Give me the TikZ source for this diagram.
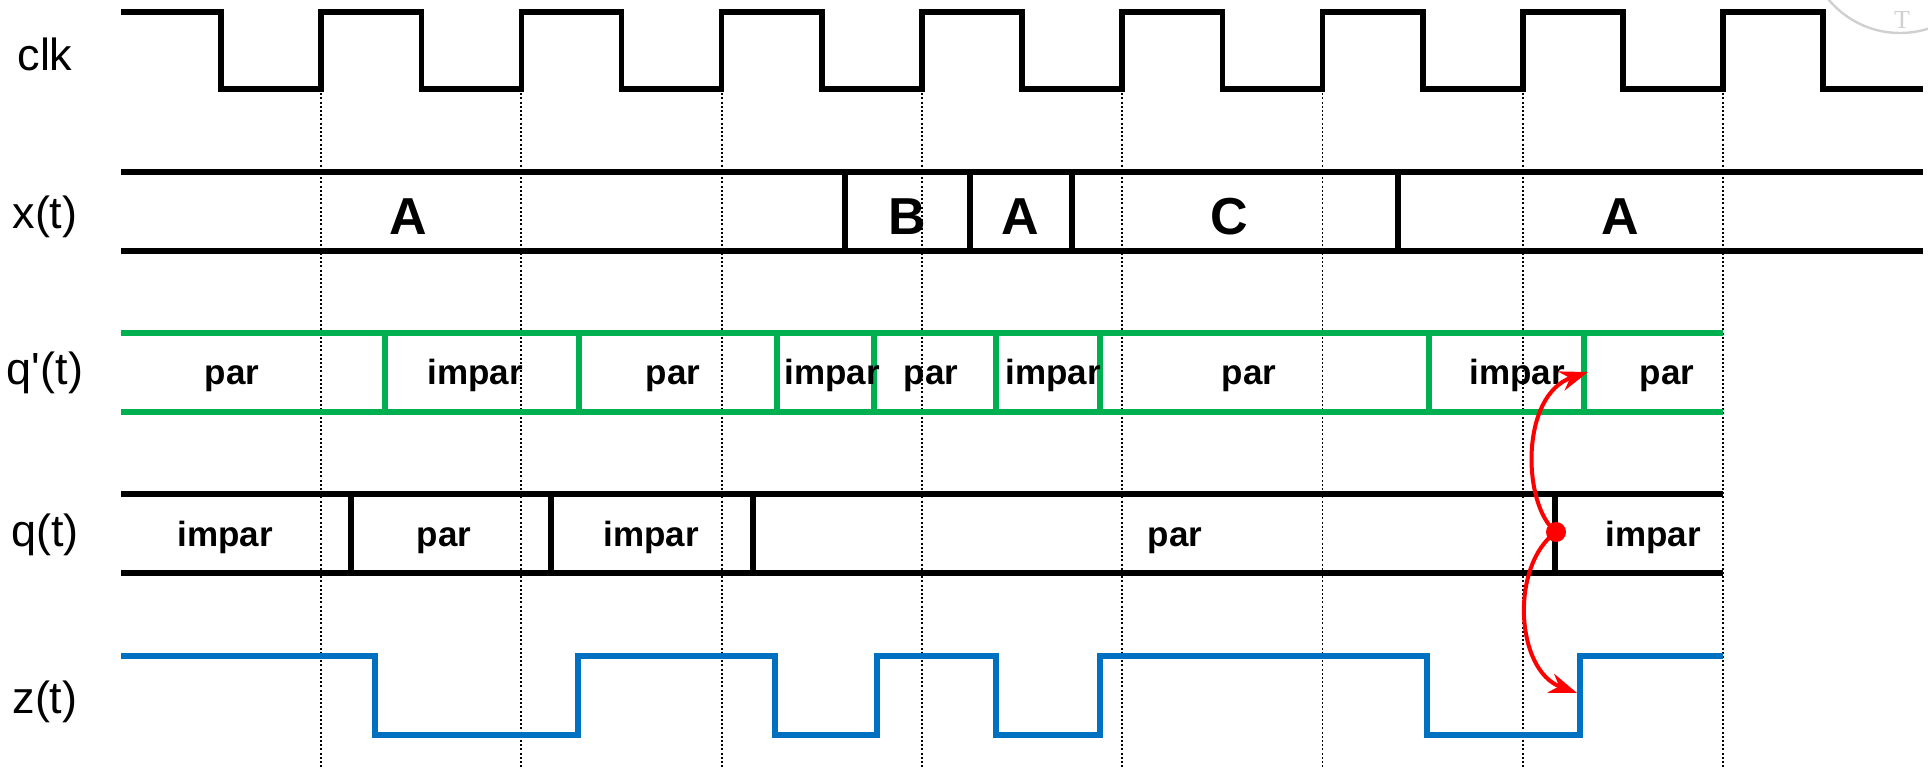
\documentclass[tikz,border=0pt]{standalone}
\usepackage{fontspec}
\setmainfont{Liberation Sans}
\newfontfamily\sealfont{Liberation Serif}
\usepackage{xcolor}
\usetikzlibrary{arrows.meta, positioning, calc}
\definecolor{stategreen}{RGB}{0,176,80}
\definecolor{outblue}{RGB}{0,112,192}
\definecolor{sealgray}{RGB}{208,208,208}

\begin{document}
\begin{tikzpicture}[x=0.5pt, y=-0.5pt, line width=2.8pt,
    sig/.style={draw=black},
    qpsig/.style={draw=stategreen},
    zsig/.style={draw=outblue},
    edgeline/.style={line width=0.9pt, dash pattern=on 1pt off 1.1pt},
    signame/.style={anchor=base, font=\fontsize{22.5}{27}\selectfont},
    busval/.style={anchor=base, font=\bfseries\fontsize{26}{30}\selectfont},
    st/.style={anchor=base, font=\bfseries\fontsize{17.5}{21}\selectfont},
    hitdot/.style={circle, fill=red, inner sep=0pt, minimum size=10pt},
    cause/.style={draw=red, line width=2pt, -{Stealth[length=14pt, width=10pt]}}]
  \useasboundingbox (0,0) rectangle (1928,767);
  \begin{scope}
    \clip (0,0) rectangle (1928,767);
    \draw[sealgray, line width=1.2pt] (1900,-60) circle (93);
    \node[text=sealgray, font=\sealfont\fontsize{13}{15}\selectfont] (sealT) at (1902,20) {T};
  \end{scope}

  \foreach \k in {0,...,7}
    \draw[edgeline] ({321+200.3*\k},89) -- ({321+200.3*\k},767);

  \draw[sig] (121,12) foreach \k in {0,...,7} { -| ({221+200.3*\k},89) -| ({321+200.3*\k},12) }
    -| (1823,89) -- (1923,89);

  \draw[sig] (121,172) -- (1923,172) (121,251) -- (1923,251);
  \foreach \s in {845,970,1072,1398}
    \draw[sig] (\s,172) -- (\s,251);

  \draw[qpsig] (121,333) -- (1723,333) (121,412) -- (1723,412);
  \foreach \s in {385,579,777,874,996,1100,1429,1584}
    \draw[qpsig] (\s,333) -- (\s,412);

  \draw[sig] (121,494) -- (1723,494) (121,573) -- (1723,573);
  \foreach \s in {351,551,753,1555}
    \draw[sig] (\s,494) -- (\s,573);

  \draw[zsig] (121,656) -| (375,735) -| (578,656) -| (775,735) -| (877,656)
    -| (996,735) -| (1100,656) -| (1427,735) -| (1580,656) -- (1723,656);

  \node[signame] (lclk) at (45,70) {clk};
  \node[signame] (lx) at (45,228) {x(t)};
  \node[signame] (lqp) at (45,384) {q\textquotesingle(t)};
  \node[signame] (lq) at (45,546) {q(t)};
  \node[signame] (lz) at (45,713) {z(t)};

  \foreach \n/\p/\v in {xa1/408/A, xb/907/B, xa2/1020/A, xc/1229/C, xa3/1620/A}
    \node[busval] (\n) at (\p,234) {\v};
  \foreach \n/\p/\v in {qp1/232/par, qp2/475/impar, qp3/673/par, qp4/832/impar, qp5/931/par,
      qp6/1053/impar, qp7/1249/par, qp8/1517/impar, qp9/1667/par}
    \node[st] (\n) at (\p,384) {\v};
  \foreach \n/\p/\v in {q1/225/impar, q2/444/par, q3/651/impar, q4/1175/par, q5/1653/impar}
    \node[st] (\n) at (\p,546) {\v};

  \node[hitdot] (hit) at (1556,532) {};
  \coordinate (qpnext) at (1588,372);
  \coordinate (znext) at (1577,693);
  \draw[cause] (hit.center) .. controls (1522,505) and (1520,395) .. (qpnext);
  \draw[cause] (hit.center) .. controls (1510,565) and (1515,670) .. (znext);
\end{tikzpicture}
\end{document}
